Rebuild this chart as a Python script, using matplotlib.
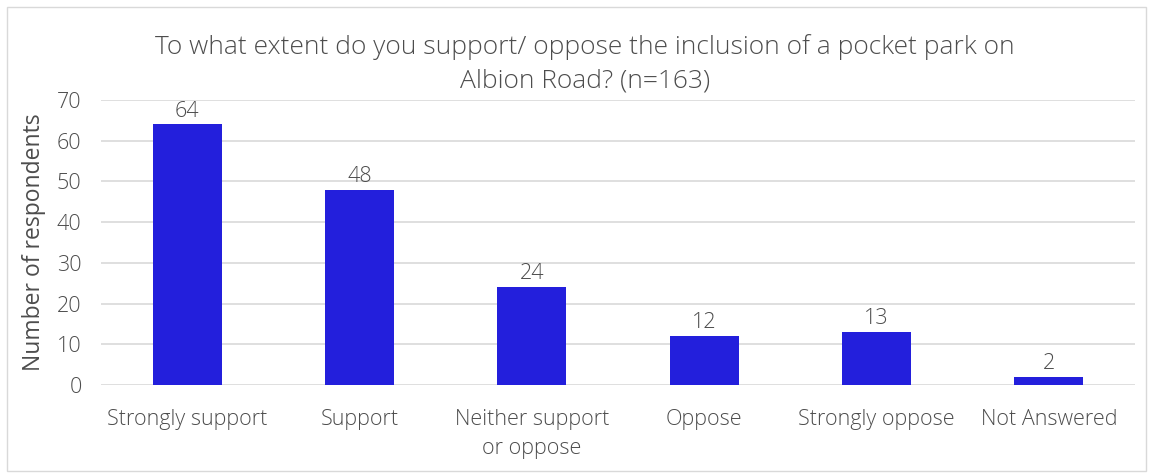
import matplotlib
matplotlib.use("Agg")
import matplotlib.pyplot as plt
from matplotlib.patches import Rectangle

categories = ['Strongly support', 'Support', 'Neither support\nor oppose',
              'Oppose', 'Strongly oppose', 'Not Answered']
respondents = [64, 48, 24, 12, 13, 2]
title = 'To what extent do you support/ oppose the inclusion of a pocket park on\nAlbion Road? (n=163)'

plt.rcParams['font.family'] = ['Open Sans', 'DejaVu Sans']
plt.rcParams['font.weight'] = 'light'
text_color = '#4d4d4d'

fig = plt.figure(figsize=(11.49, 4.74), dpi=100)
ax = fig.add_axes([101 / 1149, 1 - 385 / 474, 1034 / 1149, 285 / 474])

x = range(len(categories))
bars = ax.bar(x, respondents, width=0.4, color='#231FDC', zorder=3)
for b, v in zip(bars, respondents):
    ax.text(b.get_x() + b.get_width() / 2, v + 0.7, str(v), ha='center', va='bottom',
            fontsize=15.5, color=text_color, fontweight='light')

ax.set_xlim(-0.5, len(categories) - 0.5)
ax.set_ylim(0, 70)
ax.set_yticks(range(0, 71, 10))
ax.set_xticks(list(x))
ax.set_xticklabels(categories, fontsize=15.5, color=text_color, linespacing=1.5)
ax.tick_params(axis='y', labelsize=15.5, labelcolor=text_color, length=0, pad=14)
ax.tick_params(axis='x', length=0, pad=17)
ax.grid(axis='y', color='#D9D9D9', linewidth=1.2, zorder=0)
for s in ax.spines.values():
    s.set_visible(False)
ax.set_ylabel('Number of respondents', fontsize=16.5, color=text_color, labelpad=8)

fig.text(585 / 1149, 1 - 64 / 474, title, ha='center', va='center', fontsize=19,
         color=text_color, linespacing=1.45)

fig.patches.append(Rectangle((7 / 1149, 3 / 474), 1139 / 1149, 464 / 474,
                             transform=fig.transFigure, fill=False,
                             edgecolor='#D9D9D9', linewidth=1))

fig.savefig('out.png', dpi=100)
